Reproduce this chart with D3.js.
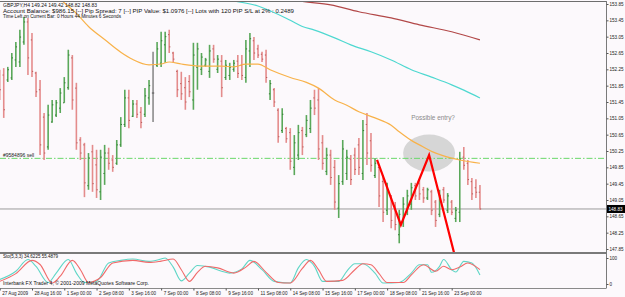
<!DOCTYPE html>
<html>
<head>
<meta charset="utf-8">
<script src="https://cdn.jsdelivr.net/npm/d3@7"></script>
<style>
  body { margin: 0; background: #fff; }
  svg { display: block; font-family: "Liberation Sans", Arial, sans-serif; }
</style>
</head>
<body>
<div id="chart"></div>
<script>
// GBPJPY H4 bars, [open, high, low, close]
const ohlc = [
  [151.95,152.24,151.50,151.75],[152.11,152.28,151.06,151.26],[151.99,152.31,151.94,152.24],[152.04,152.65,151.99,152.53],
  [152.48,152.92,152.31,152.80],[152.43,153.22,152.31,153.04],[152.92,153.53,152.85,153.41],[153.41,153.51,152.11,152.53],
  [152.97,153.14,152.06,152.20],[152.16,152.19,151.57,151.70],[151.75,151.99,150.15,150.40],[151.08,151.18,150.03,150.20],
  [150.35,151.38,150.28,151.13],[150.96,151.50,150.94,151.38],[151.13,151.50,151.08,151.43],[151.30,151.79,151.18,151.67],
  [151.43,152.06,151.43,151.92],[151.80,152.73,151.75,152.60],[152.53,152.60,151.26,151.50],[151.79,151.92,150.28,150.45],
  [150.52,150.59,150.03,150.20],[150.40,150.45,149.12,149.47],[149.40,150.20,149.30,150.08],[150.23,150.40,149.25,149.45],
  [149.91,150.28,149.10,149.30],[149.25,150.28,149.05,150.10],[149.70,150.40,149.42,150.20],[150.20,150.33,149.79,149.95],
  [150.03,150.15,149.74,149.85],[149.95,150.52,149.91,150.40],[150.40,151.08,150.35,150.90],[150.90,151.75,150.84,151.55],
  [151.55,151.75,150.81,151.00],[151.10,151.50,151.08,151.40],[151.40,151.50,151.06,151.15],[151.20,151.33,150.81,150.95],
  [151.15,151.79,151.08,151.60],[151.55,151.99,151.38,151.85],[151.67,152.68,150.96,151.67],[152.35,152.92,152.31,152.75],
  [152.40,153.17,152.31,152.95],[152.85,153.17,152.41,153.05],[153.10,153.22,152.65,152.80],[152.65,152.68,152.41,152.50],
  [152.20,152.24,151.57,151.75],[151.90,152.19,151.50,151.65],[151.80,152.06,151.26,151.45],[151.95,152.11,151.57,151.70],
  [151.50,152.90,151.26,152.60],[152.30,152.90,151.75,152.75],[152.25,152.65,152.11,152.55],[152.35,152.53,152.31,152.48],
  [152.20,152.85,152.04,152.70],[152.75,152.85,152.41,152.50],[152.25,152.60,152.16,152.50],[152.45,152.60,151.57,151.80],
  [152.05,152.48,151.99,152.35],[152.10,152.41,151.99,152.30],[152.25,152.48,152.19,152.40],[152.45,152.60,152.04,152.15],
  [152.35,152.60,151.99,152.10],[152.05,152.97,151.92,152.75],[152.70,153.14,152.31,153.00],[152.95,153.04,152.48,152.65],
  [152.75,152.85,152.53,152.60],[152.62,152.68,152.43,152.50],[152.60,152.73,151.92,152.05],[151.65,151.99,151.50,151.90],
  [151.75,151.79,151.33,151.45],[151.25,151.30,150.45,150.60],[150.75,151.30,150.69,151.15],[150.80,150.84,150.45,150.55],
  [150.70,150.81,149.79,150.00],[149.85,150.64,149.66,150.45],[150.15,150.89,150.03,150.70],[150.75,150.84,150.15,150.35],
  [150.65,151.13,150.59,151.00],[150.80,151.50,150.69,151.30],[151.55,151.75,151.13,151.30],[151.50,151.79,150.03,150.30],
  [150.45,150.64,149.79,149.95],[149.75,150.33,149.66,150.15],[150.15,150.28,149.42,149.60],[149.85,150.03,148.81,149.00],
  [148.85,149.66,148.61,149.45],[149.50,150.52,149.42,150.30],[149.70,150.28,149.54,150.10],[150.05,150.15,149.42,149.55],
  [150.15,150.33,149.66,149.80],[150.40,150.57,149.66,149.85],[149.70,151.01,149.54,150.75],[150.90,151.18,149.91,150.20],
  [150.50,150.69,149.74,149.90],[149.65,150.08,149.59,149.95],[149.85,149.86,148.88,149.15],[149.50,149.66,148.51,148.75],
  [148.80,149.47,148.68,149.30],[149.10,149.17,148.36,148.55],[148.90,149.00,148.31,148.45],[148.20,148.81,147.99,148.70],
  [148.55,149.12,148.39,148.95],[148.80,149.30,148.68,149.15],[148.95,149.47,148.81,149.35],[149.40,149.47,149.05,149.15],
  [149.45,149.54,149.05,149.20],[149.30,149.37,148.98,149.10],[149.10,149.35,149.05,149.30],[149.25,149.30,148.68,148.80],
  [149.00,149.05,148.39,148.55],[148.70,149.30,148.63,149.15],[149.30,149.37,148.98,149.05],[148.80,149.22,148.73,149.15],
  [149.00,149.05,148.68,148.75],[148.60,148.88,148.51,148.80],[148.75,150.23,148.51,150.05],[150.10,150.35,149.79,149.90],
  [149.95,150.03,149.42,149.55],[149.50,149.59,149.05,149.20],[149.35,149.56,149.10,149.24],[149.24,149.42,148.82,148.83]
];

// moving averages, [bar index, price]
const maFast = [[12,154.40],[15,153.98],[19,153.62],[22,153.30],[26,152.98],[30,152.67],[33,152.49],[37,152.36],[40,152.38],
  [42,152.43],[45,152.38],[50,152.33],[55,152.33],[58,152.31],[61,152.38],[64,152.38],[67,152.24],[72,152.05],[76,151.93],
  [79,151.79],[83,151.50],[86,151.37],[89,151.21],[93,151.06],[97,150.88],[99,150.72],[102,150.51],[104,150.40],[107,150.24],
  [110,150.13],[114,150.03],[119,149.95]];
const maMid = [[52,154.10],[57,153.95],[64,153.80],[72,153.45],[75,153.30],[78,153.21],[83,153.02],[87,152.85],[92,152.68],
  [97,152.48],[102,152.24],[107,152.06],[112,151.87],[115,151.74],[119,151.55]];
const maSlow = [[70,154.02],[74,153.93],[82,153.83],[89,153.66],[97,153.51],[104,153.34],[112,153.17],[119,152.97]];

// stochastic (5,3,3), [bar index, value]
const stochMain = [[0,17],[4,49],[7,94],[9,68],[12,6],[14,42],[17,94],[19,42],[21,6],[24,10],[27,81],[30,91],[33,96],[37,87],
  [40,96],[41,100],[43,65],[45,12],[47,42],[49,71],[52,65],[55,49],[57,42],[60,58],[62,91],[65,55],[68,10],[72,4],[74,62],
  [76,94],[78,68],[80,10],[84,10],[86,49],[88,78],[90,78],[93,42],[95,4],[99,6],[102,42],[104,74],[106,74],[107,45],[109,68],
  [110,94],[112,55],[113,46],[115,87],[117,81],[119,35]];
const stochSignal = [[0,10],[4,40],[8,91],[10,75],[13,4],[15,30],[18,91],[20,55],[22,6],[25,25],[28,81],[33,91],[37,83],[40,88],
  [43,96],[45,55],[47,10],[49,45],[51,68],[54,62],[58,42],[61,65],[63,87],[66,45],[69,6],[72,4],[75,60],[77,91],[79,55],[81,10],
  [85,14],[88,55],[90,78],[92,74],[94,40],[96,6],[100,6],[102,35],[105,74],[108,49],[110,68],[112,55],[114,65],[116,81],[119,55]];

// drawn objects
const zigzag = [[93.5,150.03],[99.4,148.44],[106.4,150.15],[112.6,147.75]];
const entryZone = [106.4, 150.20];
const orderPrice = 150.07;
const bidPrice = 148.83;

const priceTicks = [153.85,153.45,153.05,152.65,152.25,151.85,151.45,151.05,150.65,150.25,149.85,149.45,149.05,148.65,148.25,147.85];
const timeTickIdx = [0,8,16,24,32,40,48,56,64,72,80,88,96,104,112];
const timeLabels = ["27 Aug 2009","28 Aug 16:00","1 Sep 00:00","2 Sep 08:00","3 Sep 16:00","7 Sep 00:00","8 Sep 08:00",
  "9 Sep 16:00","11 Sep 08:00","14 Sep 08:00","15 Sep 16:00","17 Sep 00:00","18 Sep 08:00","21 Sep 16:00","23 Sep 00:00"];

const headerLines = [
  "GBPJPY,H4  149.24 149.42 148.82 148.83",
  "Account Balance: $986.15 [--] Pip Spread: 7 [--] PIP Value: $1.0976 [--] Lots with 120 PIP S/L at 2% : 0.2489",
  "Time Left on Current Bar: 0 Hours 44 Minutes 6 Seconds"
];

const width = 625, height = 297;
const axisX = 606, mainTop = 2, mainBottom = 253, subTop = 254, subBottom = 288;

const svg = d3.select("#chart").append("svg").attr("width", width).attr("height", height);
svg.append("rect").attr("width", width).attr("height", height).attr("fill", "#fcf9fc");

const x = d3.scaleLinear().domain([0, 112]).range([-0.3, 451.7]);
const y = d3.scaleLinear().domain([147.85, 153.85]).range([249, 4]);
const ys = d3.scaleLinear().domain([0, 100]).range([284, 258]);

const defs = svg.append("defs");
defs.append("clipPath").attr("id", "clipMain").append("rect")
  .attr("x", 0).attr("y", mainTop).attr("width", axisX).attr("height", mainBottom - mainTop);
defs.append("clipPath").attr("id", "clipSub").append("rect")
  .attr("x", 0).attr("y", subTop).attr("width", axisX).attr("height", subBottom - subTop);

const main = svg.append("g").attr("clip-path", "url(#clipMain)");

// entry zone
main.append("ellipse")
  .attr("cx", x(entryZone[0])).attr("cy", y(entryZone[1]))
  .attr("rx", 26).attr("ry", 18.5)
  .attr("fill", "#d2d2d2").attr("opacity", 0.9);

// bid line & order line
main.append("line").attr("x1", 0).attr("x2", axisX).attr("y1", y(bidPrice)).attr("y2", y(bidPrice))
  .attr("stroke", "#9c9c9c").attr("stroke-width", 1);
main.append("line").attr("x1", 0).attr("x2", axisX).attr("y1", y(orderPrice)).attr("y2", y(orderPrice))
  .attr("stroke", "#6ad86a").attr("stroke-width", 1).attr("stroke-dasharray", "6,2,1.5,2");

// bars
const barColor = (d) => (d[3] > d[0] ? "#5aa85a" : d[3] < d[0] ? "#e48c8c" : "#8c8c8c");
const tickColor = (d) => (d[3] > d[0] ? "#2f7a2f" : d[3] < d[0] ? "#b85a5a" : "#555");

const bars = main.append("g").selectAll("g").data(ohlc).join("g");
bars.append("line")
  .attr("x1", (d, i) => x(i)).attr("x2", (d, i) => x(i))
  .attr("y1", (d) => y(d[1])).attr("y2", (d) => y(d[2]))
  .attr("stroke", barColor).attr("stroke-width", 1.6);
bars.append("line")
  .attr("x1", (d, i) => x(i) - 1.2).attr("x2", (d, i) => x(i))
  .attr("y1", (d) => y(d[0])).attr("y2", (d) => y(d[0]))
  .attr("stroke", tickColor).attr("stroke-width", 1);
bars.append("line")
  .attr("x1", (d, i) => x(i)).attr("x2", (d, i) => x(i) + 1.2)
  .attr("y1", (d) => y(d[3])).attr("y2", (d) => y(d[3]))
  .attr("stroke", tickColor).attr("stroke-width", 1);

// moving averages
const maLine = d3.line().x((d) => x(d[0])).y((d) => y(d[1])).curve(d3.curveMonotoneX);
main.append("path").attr("d", maLine(maFast)).attr("fill", "none").attr("stroke", "#f8b24a").attr("stroke-width", 1.2);
main.append("path").attr("d", maLine(maMid)).attr("fill", "none").attr("stroke", "#4ed8d0").attr("stroke-width", 1.2);
main.append("path").attr("d", maLine(maSlow)).attr("fill", "none").attr("stroke", "#b24848").attr("stroke-width", 1.2);

// zigzag
main.append("path")
  .attr("d", d3.line().x((d) => x(d[0])).y((d) => y(d[1]))(zigzag))
  .attr("fill", "none").attr("stroke", "#ff0000").attr("stroke-width", 2.2).attr("stroke-linejoin", "miter");

main.append("text")
  .attr("x", x(entryZone[0]) + 4).attr("y", y(entryZone[1]) - 33)
  .attr("text-anchor", "middle").attr("font-size", 6.4).attr("fill", "#8a8a8a")
  .text("Possible entry?");

main.append("text")
  .attr("x", 3).attr("y", y(orderPrice) - 1.5)
  .attr("font-size", 5).attr("fill", "#222")
  .text("#9584896 sell");

// header
const headerWidths = [94, 291, 118];
svg.append("g").selectAll("text").data(headerLines).join("text")
  .attr("x", 3).attr("y", (d, i) => 7.3 + i * 5.4)
  .attr("font-size", 4.8).attr("fill", "#111")
  .attr("textLength", (d, i) => headerWidths[i]).attr("lengthAdjust", "spacingAndGlyphs")
  .text((d) => d);

// stochastic window
const sub = svg.append("g").attr("clip-path", "url(#clipSub)");
const stLine = d3.line().x((d) => x(d[0])).y((d) => ys(d[1])).curve(d3.curveMonotoneX);
sub.append("path").attr("d", stLine(stochMain)).attr("fill", "none").attr("stroke", "#5fd6c6").attr("stroke-width", 1.1);
sub.append("path").attr("d", stLine(stochSignal)).attr("fill", "none").attr("stroke", "#f06a6a").attr("stroke-width", 1.1);

svg.append("text").attr("x", 3).attr("y", 257.8).attr("font-size", 4.8).attr("fill", "#111")
  .attr("textLength", 55).attr("lengthAdjust", "spacingAndGlyphs")
  .text("Sto(5,3,3) 34.6225 55.4879");
svg.append("text").attr("x", 3).attr("y", 285).attr("font-size", 4.8).attr("fill", "#111")
  .attr("textLength", 146).attr("lengthAdjust", "spacingAndGlyphs")
  .text("Interbank FX Trader 4, \u00a9 2001-2009 MetaQuotes Software Corp.");

// frame
svg.append("line").attr("x1", 0).attr("x2", axisX).attr("y1", 1.5).attr("y2", 1.5).attr("stroke", "#6e6e6e");
svg.append("line").attr("x1", 0).attr("x2", axisX).attr("y1", 253).attr("y2", 253).attr("stroke", "#7a7a7a").attr("stroke-width", 2);
svg.append("line").attr("x1", 0).attr("x2", axisX).attr("y1", subBottom + 0.5).attr("y2", subBottom + 0.5).attr("stroke", "#8a8a8a");
svg.append("line").attr("x1", axisX + 0.5).attr("x2", axisX + 0.5).attr("y1", 1).attr("y2", subBottom + 0.5).attr("stroke", "#7a7a7a");

// price axis
const yAxis = svg.append("g").attr("transform", `translate(${axisX + 0.5},0)`)
  .call(d3.axisRight(y).tickValues(priceTicks).tickFormat(d3.format(".2f")).tickSize(2).tickPadding(1).tickSizeOuter(0));
yAxis.select(".domain").remove();
yAxis.selectAll("line").attr("stroke", "#555");
yAxis.selectAll("text").attr("font-size", 4.6).attr("fill", "#222").attr("font-family", "Liberation Sans, Arial, sans-serif");

// current price box
svg.append("rect").attr("x", axisX + 1).attr("y", y(bidPrice) - 4).attr("width", 18).attr("height", 8).attr("fill", "#000");
svg.append("text").attr("x", axisX + 2.5).attr("y", y(bidPrice) + 1.6).attr("font-size", 4.6).attr("fill", "#fff")
  .text(bidPrice.toFixed(2));

// stochastic axis
const sAxis = svg.append("g").attr("transform", `translate(${axisX + 0.5},0)`)
  .call(d3.axisRight(ys).tickValues([0, 100]).tickSize(2).tickPadding(1).tickSizeOuter(0));
sAxis.select(".domain").remove();
sAxis.selectAll("line").attr("stroke", "#555");
sAxis.selectAll("text").attr("font-size", 4.6).attr("fill", "#222").attr("font-family", "Liberation Sans, Arial, sans-serif");

// time axis
const xAxis = svg.append("g").attr("transform", `translate(0,${subBottom + 0.5})`)
  .call(d3.axisBottom(x).tickValues(timeTickIdx).tickFormat((d, i) => timeLabels[i]).tickSize(2).tickSizeOuter(0));
xAxis.select(".domain").remove();
xAxis.selectAll("line").attr("stroke", "#555");
xAxis.selectAll("text").attr("text-anchor", "start").attr("x", 2).attr("y", 3).attr("dy", "0.71em")
  .attr("font-size", 4.6).attr("fill", "#222").attr("font-family", "Liberation Sans, Arial, sans-serif");
</script>
</body>
</html>
